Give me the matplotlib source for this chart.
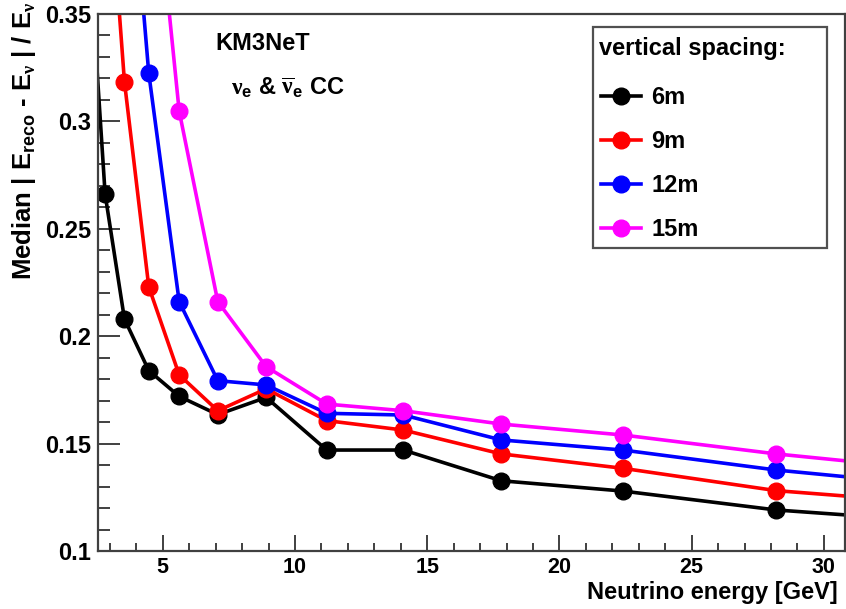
import numpy as np
import matplotlib
matplotlib.use("Agg")
import matplotlib.pyplot as plt
from matplotlib.lines import Line2D
from matplotlib.patches import Rectangle
from matplotlib.ticker import MultipleLocator, FormatStrFormatter

# Neutrino energy bin centres [GeV] (log bins, 0.1 decade wide)
energy = [2.24, 2.82, 3.55, 4.47, 5.62, 7.08, 8.91, 11.2, 14.1, 17.8, 22.4, 28.2, 35.5]

# Median relative energy resolution per vertical spacing
res_6m = [0.376, 0.266, 0.208, 0.184, 0.172, 0.1635, 0.1715, 0.147, 0.147, 0.1327, 0.1279, 0.1191, 0.1127]
res_9m = [np.nan, 0.440, 0.3185, 0.223, 0.182, 0.1653, 0.1755, 0.1607, 0.1563, 0.1452, 0.1385, 0.1281, 0.1211]
res_12m = [np.nan, np.nan, 0.457, 0.3224, 0.2161, 0.1793, 0.1773, 0.1641, 0.1633, 0.1517, 0.1470, 0.1377, 0.1290]
res_15m = [np.nan, np.nan, np.nan, 0.445, 0.3048, 0.2161, 0.1858, 0.1684, 0.1653, 0.1591, 0.1540, 0.1452, 0.1362]

labels = ["6m", "9m", "12m", "15m"]
colors = ["#000000", "#ff0000", "#0000ff", "#ff00ff"]
series = [res_6m, res_9m, res_12m, res_15m]

plt.rcParams["font.family"] = ["Liberation Sans", "DejaVu Sans"]
plt.rcParams["font.weight"] = "bold"
plt.rcParams["mathtext.fontset"] = "custom"
plt.rcParams["mathtext.rm"] = "Liberation Serif"
plt.rcParams["mathtext.bf"] = "Liberation Sans:bold"
plt.rcParams["mathtext.it"] = "Liberation Sans:bold"
plt.rcParams["mathtext.default"] = "bf"

W, H = 846, 609
fig = plt.figure(figsize=(W / 100, H / 100), dpi=100)
ax = fig.add_axes([98 / W, 1 - 551 / H, 747 / W, 537 / H])

frame_col = "#404040"

for y, c, lab in zip(series, colors, labels):
    ax.plot(energy, y, color=c, lw=2.6, marker="o", ms=12, mec=c, mfc=c,
            label=lab, solid_joinstyle="round")

ax.set_xlim(2.55, 30.8)
ax.set_ylim(0.1, 0.35)

ax.xaxis.set_major_locator(MultipleLocator(5))
ax.xaxis.set_minor_locator(MultipleLocator(1))
ax.yaxis.set_major_locator(MultipleLocator(0.05))
ax.yaxis.set_minor_locator(MultipleLocator(0.01))
ax.yaxis.set_major_formatter(FormatStrFormatter("%g"))

ax.tick_params(axis="both", which="both", direction="in", color=frame_col,
               width=1.4, top=False, right=False)
ax.tick_params(axis="x", which="major", length=11.5, pad=4, labelsize=15.5)
ax.tick_params(axis="x", which="minor", length=5.8)
ax.tick_params(axis="y", which="major", length=15.5, pad=5, labelsize=17)
ax.tick_params(axis="y", which="minor", length=8.5)
for lbl in ax.get_xticklabels() + ax.get_yticklabels():
    lbl.set_fontweight("bold")

for sp in ax.spines.values():
    sp.set_color(frame_col)
    sp.set_linewidth(1.6)

# Axis titles, right-aligned to the axis ends
fig.text(838 / W, 1 - 599 / H, "Neutrino energy [GeV]", ha="right",
         va="baseline", fontsize=17, fontweight="bold")
fig.text(10 / W, 1 - 1 / H,
         r"Median | E$_{\mathbf{reco}}$ - E$_{\mathrm{\nu}}$ | / E$_{\mathrm{\nu}}$",
         rotation=90, ha="left", va="top", fontsize=18.5, fontweight="bold")

# Annotations
fig.text(215 / W, 1 - 43 / H, "KM3NeT", fontsize=17, fontweight="bold",
         ha="left", va="center")
fig.text(231 / W, 1 - 88 / H,
         r"$\mathrm{\nu}_{\mathbf{e}}$ & $\overline{\mathrm{\nu}}_{\mathbf{e}}$ CC",
         ha="left", va="center", fontsize=17, fontweight="bold")

# Legend box and title
box = Rectangle((593 / W, 1 - 248 / H), 234 / W, 221 / H, transform=fig.transFigure,
                facecolor="white", edgecolor="#505050", lw=1.6, zorder=5)
fig.patches.append(box)
fig.text(599 / W, 1 - 48 / H, "vertical spacing:", fontsize=17, fontweight="bold",
         ha="left", va="center", zorder=6)

handles = [Line2D([], [], color=c, lw=2.6, marker="o", ms=12) for c in colors]
leg = fig.legend(handles, labels, loc="upper left",
                 bbox_to_anchor=(601 / W, 1 - 86 / H), bbox_transform=fig.transFigure,
                 frameon=False, prop={"size": 17, "weight": "bold"},
                 handlelength=1.7, handletextpad=0.42,
                 labelspacing=0.89, borderpad=0, borderaxespad=0, numpoints=1)
leg.set_zorder(6)

fig.savefig("out.png", dpi=100)
